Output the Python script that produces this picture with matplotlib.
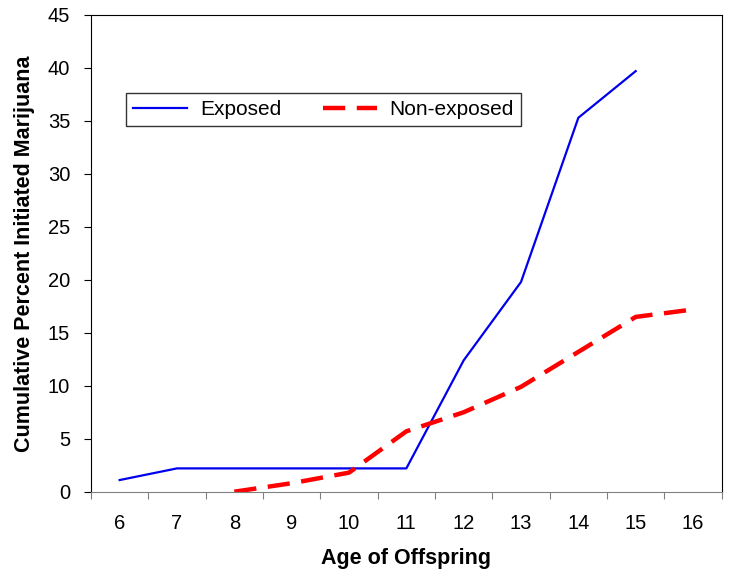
import matplotlib.pyplot as plt
import numpy as np

plt.rcParams['font.family'] = ['Liberation Sans', 'DejaVu Sans']

ages = [6, 7, 8, 9, 10, 11, 12, 13, 14, 15, 16]
exposed = [1.1, 2.2, 2.2, 2.2, 2.2, 2.2, 12.4, 19.8, 35.3, 39.7, np.nan]
non_exposed = [np.nan, np.nan, 0.0, 0.8, 1.8, 5.7, 7.5, 9.9, 13.2, 16.5, 17.2]

fig = plt.figure(figsize=(7.29, 5.81), dpi=100)
ax = fig.add_axes([0.1248, 0.1537, 0.8652, 0.8205])

ax.plot(ages, exposed, color='#0000ee', linewidth=1.6, label='Exposed')
ax.plot(ages, non_exposed, color='#ff0000', linewidth=3.2, dashes=(5, 2.6),
        label='Non-exposed')

ax.set_xlim(5.5, 16.5)
ax.set_ylim(0, 45)
ax.set_yticks(range(0, 46, 5))
ax.set_xticks(np.arange(5.5, 16.6, 1))
ax.set_xticklabels([])
ax.set_xticks(ages, minor=True)
ax.set_xticklabels([str(a) for a in ages], minor=True)
ax.tick_params(axis='x', which='major', direction='out', length=5, color='#808080')
ax.tick_params(axis='x', which='minor', length=0, pad=16, labelsize=14.5)
ax.tick_params(axis='y', direction='out', length=5, labelsize=14.5, pad=10)

ax.spines['bottom'].set_color('#808080')
for s in ['top', 'right', 'left']:
    ax.spines[s].set_color('black')

ax.set_xlabel('Age of Offspring', fontsize=15.5, fontweight='bold', labelpad=11)
ax.set_ylabel('Cumulative Percent Initiated Marijuana', fontsize=15.5,
              fontweight='bold', labelpad=9)

leg = ax.legend(ncol=2, loc='upper left', bbox_to_anchor=(0.0555, 0.837),
                fontsize=15, frameon=True, fancybox=False, borderaxespad=0,
                handlelength=2.6, handletextpad=0.6, columnspacing=2.0,
                borderpad=0.35)
leg.get_frame().set_edgecolor('black')
leg.get_frame().set_linewidth(1.0)

fig.savefig('out.png', dpi=100)
